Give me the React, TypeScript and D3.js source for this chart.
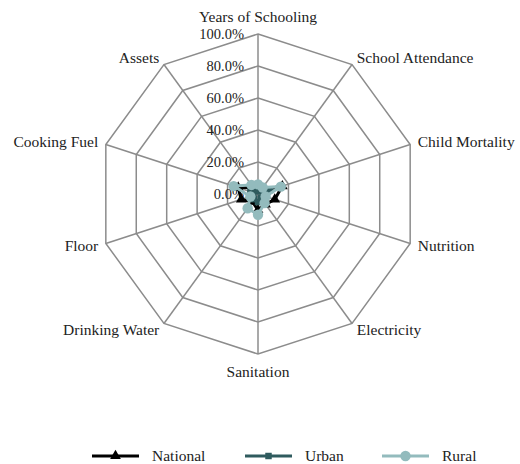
import * as d3 from 'd3'

const categories = [
  'Years of Schooling',
  'School Attendance',
  'Child Mortality',
  'Nutrition',
  'Electricity',
  'Sanitation',
  'Drinking Water',
  'Floor',
  'Cooking Fuel',
  'Assets',
]

// percentages
const national = [4, 3, 16, 11, 8, 10, 6, 11, 13, 5]
const urban = [2, 2, 8, 4, 3, 5, 4, 3, 5, 3]
const rural = [6, 5, 15, 5, 7, 13, 11, 5, 16, 7]

const ticks = [0, 20, 40, 60, 80, 100]

const series = [
  { name: 'National', values: national, color: '#000000', symbol: d3.symbolTriangle },
  { name: 'Urban', values: urban, color: '#2F5B5E', symbol: d3.symbolSquare },
  { name: 'Rural', values: rural, color: '#93BBBD', symbol: d3.symbolCircle },
]

const legendX = [92, 245, 382]

const W = 520
const H = 464
const cx = 258
const cy = 194
const R = 160
const gridColor = '#8C8C8C'

export default function App() {
  const r = d3.scaleLinear().domain([0, 100]).range([0, R])
  const angle = d3
    .scaleLinear()
    .domain([0, categories.length])
    .range([0, 2 * Math.PI])

  const pt = (i: number, v: number): [number, number] => {
    const a = angle(i)
    return [cx + r(v) * Math.sin(a), cy - r(v) * Math.cos(a)]
  }

  const ring = (v: number) =>
    d3.line().curve(d3.curveLinearClosed)(categories.map((_, i) => pt(i, v))) || ''

  const symbolSize: Record<string, number> = {
    National: 50,
    Urban: 42,
    Rural: 85,
  }

  return (
    <svg
      width={W}
      height={H}
      style={{ position: 'absolute', left: 0, top: 0, background: '#fff' }}
    >
      <style>{`text { font-family: 'Liberation Serif', serif; font-size: 15.5px; fill: #222; }
text.tick { font-size: 14.5px; }`}</style>
      {/* grid rings */}
      {ticks.slice(1).map((t) => (
        <path key={t} d={ring(t)} fill="none" stroke={gridColor} strokeWidth={1.5} />
      ))}
      {/* spokes */}
      {categories.map((c, i) => {
        const [x, y] = pt(i, 100)
        return <line key={c} x1={cx} y1={cy} x2={x} y2={y} stroke={gridColor} strokeWidth={1.5} />
      })}

      {/* tick labels */}
      {ticks.map((t) => (
        <text key={t} className="tick" x={cx - 14} y={cy - r(t) + 5} textAnchor="end">
          {d3.format('.1f')(t) + '%'}
        </text>
      ))}

      {/* axis labels */}
      {categories.map((c, i) => {
        const a = angle(i)
        const s = Math.sin(a)
        const co = Math.cos(a)
        const x = cx + (R + 8) * s
        let y = cy - (R + 8) * co + 5
        let anchor = 'middle'
        if (s > 0.1) anchor = 'start'
        else if (s < -0.1) anchor = 'end'
        if (Math.abs(s) < 0.1) y += co > 0 ? -9 : 10
        return (
          <text key={c} x={x} y={y} textAnchor={anchor}>
            {c}
          </text>
        )
      })}

      {/* series */}
      {series.map((s) => {
        const pts = s.values.map((v, i) => pt(i, v))
        const d = d3.line().curve(d3.curveLinearClosed)(pts) || ''
        const sym = d3.symbol(s.symbol, symbolSize[s.name])() || ''
        return (
          <g key={s.name}>
            <path d={d} fill="none" stroke={s.color} strokeWidth={3} strokeLinejoin="round" />
            {pts.map(([x, y], i) => (
              <path key={i} d={sym} transform={`translate(${x},${y})`} fill={s.color} />
            ))}
          </g>
        )
      })}

      {/* legend */}
      {series.map((s, k) => {
        const x0 = legendX[k]
        const y0 = 456
        const sym = d3.symbol(s.symbol, symbolSize[s.name])() || ''
        return (
          <g key={s.name}>
            <line x1={x0} x2={x0 + 47} y1={y0} y2={y0} stroke={s.color} strokeWidth={3} />
            <path d={sym} transform={`translate(${x0 + 23.5},${y0})`} fill={s.color} />
            <text x={x0 + 60} y={y0 + 5}>
              {s.name}
            </text>
          </g>
        )
      })}
    </svg>
  )
}
